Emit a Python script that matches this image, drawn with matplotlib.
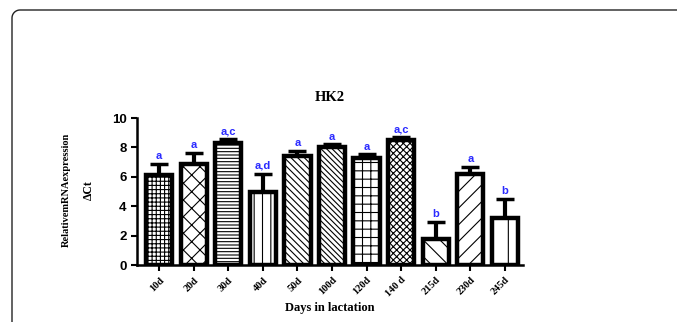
import numpy as np
import matplotlib
matplotlib.use('Agg')
import matplotlib.pyplot as plt
from matplotlib.lines import Line2D

days = ['10d', '20d', '30d', '40d', '50d', '100d', '120d', '140 d', '215d', '230d', '245d']
means = [6.1, 6.9, 8.3, 4.95, 7.4, 8.0, 7.3, 8.5, 1.8, 6.2, 3.2]
errs = [0.8, 0.7, 0.25, 1.25, 0.35, 0.2, 0.22, 0.2, 1.1, 0.45, 1.3]
letters = ['a', 'a', 'a,c', 'a,d', 'a', 'a', 'a', 'a,c', 'b', 'a', 'b']
hatches = ['++++', 'xx', '-----', '||', '\\\\\\\\\\', '\\\\\\\\\\\\', '++', 'xxxxx', '\\\\', '//', '|']

plt.rcParams['hatch.linewidth'] = 0.8
W, H = 677, 322
fig = plt.figure(figsize=(W/100, H/100), dpi=100)

# panel border: left edge, rounded top-left corner, top edge running off the right
r = 8
t = np.linspace(np.pi, np.pi/2, 12)
bx = np.concatenate([[12], 12 + r + r*np.cos(t), [W + 5]])
by = np.concatenate([[H + 5], 10 + r - r*np.sin(t), [10]])
fig.add_artist(Line2D(bx / W, 1 - by / H, transform=fig.transFigure,
                      color='#222222', linewidth=1.0))

ax = fig.add_axes([0.2024, 0.177, 0.57, 0.4565])
x = np.arange(len(days))
bars = ax.bar(x, means, width=0.76, color='white', edgecolor='black',
              linewidth=3.2, zorder=2)
for b, h in zip(bars, hatches):
    b.set_hatch(h)
ax.errorbar(x, means, yerr=[np.zeros(len(errs)), errs], fmt='none',
            ecolor='black', elinewidth=3, capsize=6.5, capthick=2.5, zorder=1)
for xi, m, e, l in zip(x, means, errs, letters):
    ax.text(xi, m + e + 0.2, l, ha='center', va='bottom', color='#2a2aff',
            fontsize=8, fontweight='bold', family='Liberation Sans')

ax.set_xlim(-0.64, 10.52)
ax.set_ylim(0, 10)
ax.set_yticks([0, 2, 4, 6, 8, 10])
ax.set_xticks(x)
ax.set_xticklabels(days, rotation=45, ha='right', rotation_mode='anchor',
                   family='Liberation Serif', fontweight='bold', fontsize=7.5)
for lab in ax.get_yticklabels():
    lab.set_family('Liberation Sans')
    lab.set_fontweight('bold')
    lab.set_fontsize(9.5)
ax.spines['top'].set_visible(False)
ax.spines['right'].set_visible(False)
ax.spines['left'].set_linewidth(1.8)
ax.spines['bottom'].set_linewidth(1.8)
ax.tick_params(width=1.5, length=4)

ax.set_title('HK2', family='Liberation Serif', fontweight='bold', fontsize=10.5, pad=12)
ax.set_xlabel('Days in lactation', family='Liberation Serif', fontweight='bold',
              fontsize=9, labelpad=2)

fig.text(66/W, 1 - 190/H, 'RelativemRNAexpression', rotation=90,
         ha='center', va='center', family='Liberation Serif', fontweight='bold',
         fontsize=7.5)
fig.text(89/W, 1 - 190/H, 'ΔCt', rotation=90, ha='center', va='center',
         family='Liberation Serif', fontweight='bold', fontsize=8.5)

fig.savefig('out.png', dpi=100)
